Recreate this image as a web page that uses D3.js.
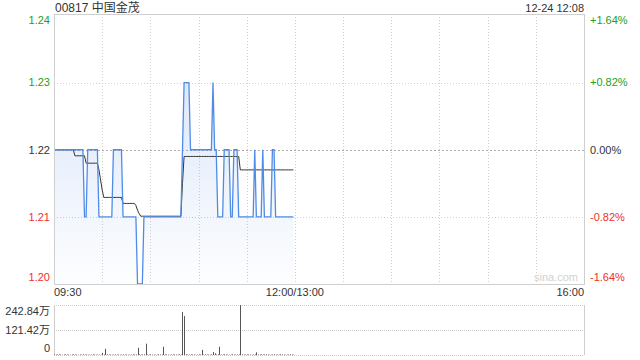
<!DOCTYPE html>
<html><head><meta charset="utf-8">
<script src="https://cdn.jsdelivr.net/npm/d3@7"></script>
<style>
body{margin:0;background:#fff;}
text{font-family:"Liberation Sans","Noto Sans CJK SC",Arial,sans-serif;}
</style></head>
<body><svg id="c" width="640" height="360"></svg>
<script>
const title = "00817 中国金茂";
const stamp = "12-24 12:08";
const prevClose = 1.22;
const priceTicks = [1.20, 1.21, 1.22, 1.23, 1.24];
const pctLabels = ["-1.64%", "-0.82%", "0.00%", "+0.82%", "+1.64%"];
const timeTicks = [0, 150, 330];
const timeLabels = ["09:30", "12:00/13:00", "16:00"];
const volTicks = [0, 121.42, 242.84];
const volLabels = ["0", "121.42万", "242.84万"];

// per-minute price from 09:30 (index 0) to 11:59
const price = [
1.22,1.22,1.22,1.22,1.22,1.22,1.22,1.22,1.22,1.22,
1.22,1.22,1.22,1.22,1.22,1.22,1.22,1.22,1.22,1.21,
1.21,1.22,1.22,1.22,1.22,1.22,1.22,1.22,1.21,1.21,
1.21,1.21,1.21,1.21,1.21,1.21,1.21,1.22,1.22,1.22,
1.22,1.22,1.22,1.21,1.21,1.21,1.21,1.21,1.21,1.21,
1.21,1.21,1.20,1.20,1.20,1.20,1.21,1.21,1.21,1.21,
1.21,1.21,1.21,1.21,1.21,1.21,1.21,1.21,1.21,1.21,
1.21,1.21,1.21,1.21,1.21,1.21,1.21,1.21,1.21,1.21,
1.22,1.23,1.23,1.23,1.23,1.22,1.22,1.22,1.22,1.22,
1.22,1.22,1.22,1.22,1.22,1.22,1.22,1.22,1.22,1.23,
1.22,1.22,1.21,1.21,1.21,1.21,1.22,1.22,1.22,1.22,
1.21,1.21,1.22,1.22,1.22,1.21,1.21,1.21,1.21,1.21,
1.21,1.21,1.21,1.21,1.21,1.22,1.21,1.21,1.21,1.21,
1.22,1.21,1.21,1.21,1.21,1.21,1.22,1.22,1.21,1.21,
1.21,1.21,1.21,1.21,1.21,1.21,1.21,1.21,1.21,1.21
];
// per-minute average price
const avgPrice = [
1.2200,1.2200,1.2200,1.2200,1.2200,1.2200,1.2200,1.2200,1.2200,1.2200,
1.2200,1.2200,1.2200,1.2191,1.2191,1.2191,1.2191,1.2191,1.2191,1.2191,
1.2180,1.2180,1.2180,1.2180,1.2180,1.2180,1.2180,1.2180,1.2170,1.2155,
1.2140,1.2129,1.2129,1.2129,1.2129,1.2129,1.2129,1.2129,1.2129,1.2129,
1.2129,1.2129,1.2129,1.2120,1.2120,1.2120,1.2120,1.2120,1.2120,1.2120,
1.2120,1.2117,1.2110,1.2105,1.2101,1.2101,1.2101,1.2101,1.2101,1.2101,
1.2101,1.2101,1.2101,1.2101,1.2101,1.2101,1.2101,1.2101,1.2101,1.2101,
1.2101,1.2101,1.2101,1.2101,1.2101,1.2101,1.2101,1.2101,1.2101,1.2101,
1.2150,1.2190,1.2190,1.2190,1.2190,1.2190,1.2190,1.2190,1.2190,1.2190,
1.2190,1.2190,1.2190,1.2190,1.2190,1.2190,1.2190,1.2190,1.2190,1.2190,
1.2190,1.2190,1.2190,1.2190,1.2190,1.2190,1.2190,1.2190,1.2190,1.2190,
1.2190,1.2190,1.2190,1.2190,1.2190,1.2190,1.2170,1.2170,1.2170,1.2170,
1.2170,1.2170,1.2170,1.2170,1.2170,1.2170,1.2170,1.2170,1.2170,1.2170,
1.2170,1.2170,1.2170,1.2170,1.2170,1.2170,1.2170,1.2170,1.2170,1.2170,
1.2170,1.2170,1.2170,1.2170,1.2170,1.2170,1.2170,1.2170,1.2170,1.2170
];
// per-minute volume (万)
const volume = [
3,2,2,3,2,1,2,3,2,2,
1,2,3,2,2,1,2,2,3,2,
2,1,2,2,3,2,1,2,2,1,
10,2,30,3,2,2,1,2,3,2,
2,1,2,3,2,2,1,2,2,3,
2,2,35,3,2,2,3,55,2,2,
3,2,2,1,2,3,2,2,40,3,
2,2,1,2,3,2,2,2,3,2,
209,189,3,2,2,3,2,2,1,2,
3,2,25,2,3,2,2,1,3,15,
8,2,3,40,2,2,3,2,2,1,
2,3,2,2,2,3,242.84,3,2,2,
3,2,2,1,2,3,13,2,2,3,
2,2,3,2,1,2,2,3,2,2,
2,3,2,2,1,2,2,3,2,2
];

const svg = d3.select("#c");
const L = 54, R = 584, T = 14, B = 284;
const VT = 305, VB = 355;
const green = "#22a022", red = "#f0302a", dark = "#333";
const colorFor = v => v > prevClose + 1e-9 ? green : (v < prevClose - 1e-9 ? red : dark);

const x = d3.scaleLinear().domain([0, 330]).range([L, R]);
const y = d3.scaleLinear().domain([1.20, 1.24]).range([B, T + 1.5]);
const yv = d3.scaleLinear().domain([0, 242.84]).range([VB, VT]);

const defs = svg.append("defs");
const grad = defs.append("linearGradient").attr("id", "g").attr("gradientUnits", "userSpaceOnUse")
  .attr("x1", 0).attr("x2", 0).attr("y1", T).attr("y2", B);
grad.append("stop").attr("offset", "0").attr("stop-color", "#3a78e0").attr("stop-opacity", 0.22);
grad.append("stop").attr("offset", "1").attr("stop-color", "#3a78e0").attr("stop-opacity", 0.01);

// grid verticals
const vgrid = d3.range(30, 330, 30);
svg.append("g").selectAll("line").data(vgrid).join("line")
  .attr("x1", d => Math.round(x(d)) + 0.5).attr("x2", d => Math.round(x(d)) + 0.5)
  .attr("y1", T).attr("y2", B)
  .attr("stroke", "#d0d0d0").attr("stroke-dasharray", "1,2");
// horizontal grid
svg.append("g").selectAll("line").data([1.21, 1.23]).join("line")
  .attr("x1", L).attr("x2", R)
  .attr("y1", d => Math.round(y(d)) + 0.5).attr("y2", d => Math.round(y(d)) + 0.5)
  .attr("stroke", "#d0d0d0").attr("stroke-dasharray", "1,2");

// area + lines
const idx = d3.range(price.length);
svg.append("path").datum(idx)
  .attr("d", d3.area().x(i => x(i)).y0(B).y1(i => y(price[i])))
  .attr("fill", "url(#g)");
svg.append("line").attr("x1", L).attr("x2", R)
  .attr("y1", Math.round(y(prevClose)) + 0.5).attr("y2", Math.round(y(prevClose)) + 0.5)
  .attr("stroke", "#aaa").attr("stroke-dasharray", "2,2");
svg.append("path").datum(idx)
  .attr("d", d3.line().x(i => x(i)).y(i => y(avgPrice[i])))
  .attr("fill", "none").attr("stroke", "#333").attr("stroke-width", 1);
svg.append("path").datum(idx)
  .attr("d", d3.line().x(i => x(i)).y(i => y(price[i])))
  .attr("fill", "none").attr("stroke", "#4f8ce8").attr("stroke-width", 1.3);

// borders
svg.append("rect").attr("x", L + 0.5).attr("y", T + 0.5).attr("width", R - L).attr("height", B - T)
  .attr("fill", "none").attr("stroke", "#cfcfcf");

// watermark
svg.append("text").attr("x", R - 6).attr("y", B - 3).attr("text-anchor", "end")
  .attr("font-size", 11).attr("fill", "#d2d2d2").text("sina.com");

// price labels
svg.append("g").selectAll("text").data(priceTicks).join("text")
  .attr("x", 50).attr("y", d => Math.min(Math.max(y(d), 20), 277)).attr("dy", "0.35em")
  .attr("text-anchor", "end").attr("font-size", 11).attr("fill", d => colorFor(d)).text(d => d.toFixed(2));
svg.append("g").selectAll("text").data(priceTicks).join("text")
  .attr("x", 590).attr("y", d => Math.min(Math.max(y(d), 20), 277)).attr("dy", "0.35em")
  .attr("text-anchor", "start").attr("font-size", 11).attr("fill", d => colorFor(d))
  .text((d, i) => pctLabels[i]);

// time labels
svg.append("g").selectAll("text").data(timeTicks).join("text")
  .attr("x", d => x(d)).attr("y", 292.5).attr("dy", "0.35em")
  .attr("text-anchor", (d, i) => i === 0 ? "start" : (i === timeTicks.length - 1 ? "end" : "middle"))
  .attr("font-size", 11).attr("fill", "#333").text((d, i) => timeLabels[i]);

// title
svg.append("text").attr("x", 55).attr("y", 12).attr("font-size", 12).attr("fill", "#333").text(title);
svg.append("text").attr("x", 584).attr("y", 12).attr("text-anchor", "end").attr("font-size", 11).attr("fill", "#333").text(stamp);

// volume panel
svg.append("g").selectAll("line").data(volTicks).join("line")
  .attr("x1", L).attr("x2", R)
  .attr("y1", d => Math.round(yv(d)) + 0.5).attr("y2", d => Math.round(yv(d)) + 0.5)
  .attr("stroke", "#c8c8c8").attr("stroke-dasharray", "1,1");
svg.append("line").attr("x1", L + 0.5).attr("x2", L + 0.5).attr("y1", VT).attr("y2", VB).attr("stroke", "#cfcfcf");
svg.append("line").attr("x1", R + 0.5).attr("x2", R + 0.5).attr("y1", VT).attr("y2", VB).attr("stroke", "#cfcfcf");
svg.append("g").selectAll("line").data(idx).join("line")
  .attr("x1", i => Math.round(x(i)) + 0.5).attr("x2", i => Math.round(x(i)) + 0.5)
  .attr("y1", VB).attr("y2", i => yv(volume[i]))
  .attr("stroke", "#555").attr("stroke-width", 1);
svg.append("g").selectAll("text").data(volTicks).join("text")
  .attr("x", 50).attr("y", d => Math.min(Math.max(yv(d), 311), 348)).attr("dy", "0.35em")
  .attr("text-anchor", "end").attr("font-size", 11).attr("fill", "#333").text((d, i) => volLabels[i]);
</script></body></html>
